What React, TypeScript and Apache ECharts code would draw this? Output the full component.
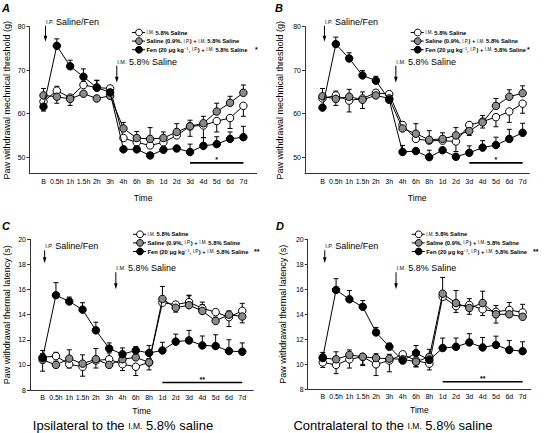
import React, { useEffect, useRef } from "react";
import * as echarts from "echarts";

const categories = ["B", "0.5h", "1h", "1.5h", "2h", "3h", "4h", "6h", "8h", "1d", "2d", "3d", "4d", "5d", "6d", "7d"];
const mechTicks = [50, 60, 70, 80];
const thermTicks = [8, 10, 12, 14, 16, 18, 20];

// Panel A: ipsilateral mechanical threshold (g)
const aWhite = [62.8, 65.3, 63.7, 66.6, 66.0, 65.8, 54.4, 53.4, 52.7, 53.4, 55.0, 57.1, 57.3, 58.3, 59.0, 61.8];
const aGray = [64.2, 63.9, 63.4, 64.6, 63.5, 64.1, 56.6, 54.4, 54.2, 54.4, 55.8, 57.1, 57.8, 60.5, 62.5, 64.8];
const aBlack = [61.6, 75.6, 70.9, 68.5, 66.0, 64.9, 51.8, 51.8, 50.4, 51.7, 52.0, 51.2, 52.6, 53.0, 54.2, 54.6];
const aWhiteErr = [0.5, 1.0, 0.5, 0.8, 1.6, 0.5, 0.5, 0.5, 0.5, 0.5, 0.5, -2.3, -2.8, -2.5, -2.4, -2.4];
const aGrayErr = [1.6, -1.5, -1.5, 0.5, 0.5, 0.5, 1.4, 1.5, 2.6, 1.4, 1.9, 1.4, 1.6, 1.9, 1.5, 1.8];
const aBlackErr = [-1.0, 1.6, 1.4, 1.8, 1.7, 0.5, 0.5, 0.5, 0.5, 0.5, 0.5, 1.8, 1.9, 1.7, 1.6, 2.5];

// Panel B: contralateral mechanical threshold (g)
const bWhite = [63.5, 64.2, 63.0, 63.5, 64.8, 64.5, 57.4, 54.2, 53.8, 53.8, 53.6, 57.4, 58.2, 59.2, 60.5, 62.3];
const bGray = [64.0, 63.4, 63.9, 63.2, 64.2, 63.5, 56.6, 55.4, 54.0, 54.2, 55.0, 56.0, 58.0, 61.8, 63.9, 64.7];
const bBlack = [61.4, 76.0, 72.7, 68.8, 67.6, 63.2, 51.2, 51.4, 50.0, 51.6, 50.1, 51.0, 52.2, 52.8, 54.2, 55.6];
const bWhiteErr = [0.5, 1.0, -2.6, 1.5, 0.5, 0.5, 0.5, 0.5, 0.5, 0.5, -2.3, 0.5, -1.5, -2.2, -2.5, -2.2];
const bGrayErr = [1.8, -1.5, 1.7, -2.0, 1.2, 0.5, 1.5, 2.3, 2.1, 1.4, 1.8, -1.0, 1.6, 1.7, 1.6, 1.7];
const bBlackErr = [-0.5, 1.6, 1.3, 1.1, 1.0, 0.5, 1.5, 0.5, 1.6, 0.5, 0.5, 1.6, 1.6, 1.8, 2.2, 2.2];

// Panel C: ipsilateral thermal latency (s)
const cWhite = [10.6, 10.7, 10.05, 9.85, 10.35, 10.45, 10.05, 9.85, 10.2, 14.95, 14.8, 15.0, 14.5, 14.2, 13.8, 14.3];
const cGray = [10.4, 10.0, 10.5, 10.1, 10.45, 10.0, 10.45, 10.6, 10.2, 15.25, 14.55, 14.75, 14.3, 13.5, 14.0, 13.85];
const cBlack = [10.55, 15.55, 15.05, 14.4, 12.75, 11.3, 10.85, 11.15, 10.95, 11.15, 11.85, 11.95, 11.55, 11.5, 11.1, 11.05];
const cWhiteErr = [0.3, 0.3, -0.3, -0.75, -0.6, 0.5, -0.5, -0.7, 0.3, 0.3, 0.2, 0.5, 0.5, 0.2, -0.75, 0.6];
const cGrayErr = [-0.9, 0.3, 0.7, 0.7, 0.85, 0.3, 0.3, 0.5, -0.6, 1.0, -0.35, 0.8, 0.5, 0.3, 0.3, -0.5];
const cBlackErr = [0.6, 1.0, 0.35, 0.55, 0.65, 0.45, 0.5, 0.3, 0.6, 0.65, 0.6, 0.8, 0.75, 0.9, 0.9, 0.7];

// Panel D: contralateral thermal latency (s)
const dWhite = [10.15, 9.95, 10.4, 10.6, 10.0, 10.3, 10.8, 10.3, 10.05, 15.4, 14.65, 14.75, 14.4, 14.2, 14.35, 14.15];
const dGray = [10.5, 10.4, 10.75, 10.6, 10.5, 10.45, 10.4, 10.2, 10.6, 15.65, 14.9, 14.5, 14.9, 14.0, 14.0, 13.8];
const dBlack = [10.55, 15.95, 15.2, 14.6, 12.55, 11.4, 10.3, 10.9, 10.35, 11.3, 11.4, 11.75, 11.35, 11.55, 11.15, 11.05];
const dWhiteErr = [-0.4, -0.7, -0.7, -0.7, -0.9, -0.9, 0.2, -0.5, -0.5, 0.2, -0.5, 0.5, -0.5, 0.5, 0.6, 0.65];
const dGrayErr = [0.3, 0.6, 0.4, -0.6, 0.35, 0.35, 0.2, -0.4, 0.6, 1.3, 1.0, -0.5, 0.95, -0.7, 0.3, 0.2];
const dBlackErr = [0.4, 0.9, 0.7, 0.5, 0.4, 0.3, 0.2, 0.6, 0.3, 0.8, 0.7, 0.7, 0.8, 0.7, 0.75, 0.75];

const seriesNames = ["I.M. 5.8% Saline", "Saline (0.9%, I.P.) + I.M. 5.8% Saline", "Fen (20 μg kg−1, I.P.) + I.M. 5.8% Saline"];
const legendTexts = [
  "{sc|I.M.} 5.8% Saline",
  "Saline (0.9%, {sc|I.P.}) + {sc|I.M.} 5.8% Saline",
  "Fen (20 μg kg{sup|−1}, {sc|I.P.}) + {sc|I.M.} 5.8% Saline",
];
const fills = ["#ffffff", "#8a8a8a", "#000000"];

const FONT = "Liberation Sans, Arial, Helvetica, sans-serif";

const panels = [
  {
    letter: "A", data: [aWhite, aGray, aBlack], err: [aWhiteErr, aGrayErr, aBlackErr],
    grid: { left: 29.5, top: 26.7, width: 227.2, height: 147 }, xMin: -1.05, xMax: 16.0,
    yMin: 46.2, yMax: 80, ticks: mechTicks, yName: "Paw withdrawal mechnical threshold (g)",
    sig: { from: 11, to: 15, y: 48.7, star: "*" }, legendStar: "*",
    letterPos: [2, 2], legendX: 139, legendY: 32.5, starX: 255,
  },
  {
    letter: "B", data: [bWhite, bGray, bBlack], err: [bWhiteErr, bGrayErr, bBlackErr],
    grid: { left: 305, top: 26.7, width: 224.3, height: 147 }, xMin: -1.31, xMax: 15.5,
    yMin: 46.2, yMax: 80, ticks: mechTicks, yName: "Paw withdrawal mechnical threshold (g)",
    sig: { from: 11, to: 15, y: 48.7, star: "*" }, legendStar: "*",
    letterPos: [275, 2], legendX: 417.7, legendY: 32.5, starX: 527,
  },
  {
    letter: "C", data: [cWhite, cGray, cBlack], err: [cWhiteErr, cGrayErr, cBlackErr],
    grid: { left: 30, top: 239.3, width: 223.3, height: 150.7 }, xMin: -0.95, xMax: 15.83,
    yMin: 8, yMax: 20, ticks: thermTicks, yName: "Paw withdrawal thermal latency (s)",
    sig: { from: 9, to: 15, y: 8.6, star: "**" }, legendStar: "**",
    letterPos: [2, 220], legendX: 140, legendY: 234.3, starX: 254,
  },
  {
    letter: "D", data: [dWhite, dGray, dBlack], err: [dWhiteErr, dGrayErr, dBlackErr],
    grid: { left: 307.7, top: 239.3, width: 223.3, height: 150 }, xMin: -1.13, xMax: 15.63,
    yMin: 8, yMax: 20, ticks: thermTicks, yName: "Paw withdrawal thermal latency (s)",
    sig: { from: 9, to: 15, y: 8.6, star: "**" }, legendStar: "**",
    letterPos: [276, 220], legendX: 418.7, legendY: 234.3, starX: 533,
  },
];

const axisColor = "#333";

function buildOption() {
  const grid: any[] = [];
  const xAxis: any[] = [];
  const yAxis: any[] = [];
  const series: any[] = [];
  panels.forEach((p, i) => {
    grid.push({ ...p.grid, outerBoundsMode: "none", containLabel: false });
    xAxis.push({
      type: "value", gridIndex: i, min: p.xMin, max: p.xMax,
      name: "Time", nameLocation: "middle", nameGap: i < 2 ? 20 : 16,
      nameTextStyle: { fontSize: 8.5, fontFamily: FONT, color: "#000" },
      axisLine: { show: true, onZero: false, lineStyle: { color: axisColor, width: 1 } },
      axisTick: { show: false },
      splitLine: { show: false },
      axisLabel: {
        customValues: categories.map((_, k) => k),
        formatter: (v: number) => categories[Math.round(v)] ?? "",
        fontSize: 7, fontFamily: FONT, color: "#000", margin: 4,
      },
    });
    yAxis.push({
      type: "value", gridIndex: i, min: p.yMin, max: p.yMax,
      name: p.yName, nameLocation: "middle", nameGap: i % 2 === 0 ? 18.5 : 20.5,
      nameTextStyle: { fontSize: 9, fontFamily: FONT, color: "#000" },
      axisLine: { show: true, onZero: false, lineStyle: { color: axisColor, width: 1 } },
      axisTick: { show: true, length: 3, customValues: p.ticks, lineStyle: { color: axisColor } },
      splitLine: { show: false },
      axisLabel: { customValues: p.ticks, fontSize: 7, fontFamily: FONT, color: "#000", margin: 4 },
    });
    p.data.forEach((vals, s) => {
      const errs = p.err[s];
      series.push({
        type: "custom", name: seriesNames[s] + " err", xAxisIndex: i, yAxisIndex: i, z: 1,
        data: vals.map((v, k) => [k, v, errs[k]]),
        renderItem: (params: any, api: any) => {
          const x = api.value(0), y = api.value(1), e = api.value(2);
          const p0 = api.coord([x, y]);
          const p1 = api.coord([x, y + e]);
          return {
            type: "group",
            children: [
              { type: "line", shape: { x1: p0[0], y1: p0[1], x2: p1[0], y2: p1[1] }, style: { stroke: "#000", lineWidth: 1 } },
              { type: "line", shape: { x1: p1[0] - 2.5, y1: p1[1], x2: p1[0] + 2.5, y2: p1[1] }, style: { stroke: "#000", lineWidth: 1 } },
            ],
          };
        },
      });
      series.push({
        type: "line", name: seriesNames[s], xAxisIndex: i, yAxisIndex: i, z: 2 + s,
        data: vals.map((v, k) => [k, v]),
        symbol: "circle", symbolSize: 7.5,
        itemStyle: { color: fills[s], borderColor: "#000", borderWidth: 1 },
        lineStyle: { color: "#000", width: 1 },
      });
    });
  });
  return { animation: false, backgroundColor: "#fff", grid, xAxis, yAxis, series };
}

const richSc = {
  sc: { fontSize: 4.5, fontFamily: FONT, fill: "#000" },
  sup: { fontSize: 4, fontFamily: FONT, fill: "#000", verticalAlign: "top" },
};

export default function App() {
  const ref = useRef<HTMLDivElement>(null);
  useEffect(() => {
    if (!ref.current) return;
    const chart = echarts.init(ref.current, null, { renderer: "svg" });
    chart.setOption(buildOption());
    const g: any[] = [];
    panels.forEach((p, i) => {
      const px = (x: number, y: number) => chart.convertToPixel({ gridIndex: i }, [x, y]) as number[];
      // panel letter
      g.push({ type: "text", x: p.letterPos[0], y: p.letterPos[1], style: { text: p.letter, font: `italic bold 11px ${FONT}`, fill: "#000" } });
      // legend
      [0, 1, 2].forEach((s) => {
        const cy = p.legendY + s * 8.6;
        g.push({ type: "line", shape: { x1: p.legendX - 7, y1: cy, x2: p.legendX + 6, y2: cy }, style: { stroke: "#000", lineWidth: 1 } });
        g.push({ type: "circle", shape: { cx: p.legendX, cy, r: 3.4 }, style: { fill: fills[s], stroke: "#000", lineWidth: 1 } });
        g.push({
          type: "text", x: p.legendX + 7.5, y: cy,
          style: { text: legendTexts[s], fontSize: 5.8, fontFamily: FONT, fontWeight: "bold", fill: "#000", verticalAlign: "middle", rich: richSc },
        });
      });
      g.push({ type: "text", x: p.starX, y: p.legendY + 2 * 8.6, style: { text: p.legendStar, fontSize: 7, fontFamily: FONT, fontWeight: "bold", fill: "#000", verticalAlign: "middle" } });
      // I.P. arrow + text
      const ipTop = px(0.15, p.yMax);
      const ipLen = i < 2 ? 16 : 13;
      const ipY0 = ipTop[1] + (i < 2 ? -1 : 11);
      g.push({ type: "line", shape: { x1: ipTop[0], y1: ipY0, x2: ipTop[0], y2: ipY0 + ipLen - 4 }, style: { stroke: "#000", lineWidth: 1 } });
      g.push({ type: "polygon", shape: { points: [[ipTop[0] - 1.8, ipY0 + ipLen - 6], [ipTop[0] + 1.8, ipY0 + ipLen - 6], [ipTop[0], ipY0 + ipLen]] }, style: { fill: "#000" } });
      g.push({
        type: "text", x: ipTop[0] + 0.5, y: ipY0 - 4,
        style: { text: "{sc|I.P.} Saline/Fen", fontSize: 9, fontFamily: FONT, fill: "#000", verticalAlign: "middle", rich: { sc: { fontSize: 5.5, fontFamily: FONT, fill: "#000" } } },
      });
      // I.M. arrow + text
      const imTop = px(5.5, p.yMax);
      const imY0 = imTop[1] + (i < 2 ? 39 : 33);
      const imLen = 17;
      g.push({ type: "line", shape: { x1: imTop[0], y1: imY0, x2: imTop[0], y2: imY0 + imLen - 4 }, style: { stroke: "#000", lineWidth: 1 } });
      g.push({ type: "polygon", shape: { points: [[imTop[0] - 1.8, imY0 + imLen - 6], [imTop[0] + 1.8, imY0 + imLen - 6], [imTop[0], imY0 + imLen]] }, style: { fill: "#000" } });
      g.push({
        type: "text", x: imTop[0] + 0.5, y: imY0 - 4,
        style: { text: "{sc|I.M.} 5.8% Saline", fontSize: 9, fontFamily: FONT, fill: "#000", verticalAlign: "middle", rich: { sc: { fontSize: 5.5, fontFamily: FONT, fill: "#000" } } },
      });
      // significance bar
      const s0 = px(p.sig.from, p.sig.y);
      const s1 = px(p.sig.to, p.sig.y);
      g.push({ type: "line", shape: { x1: s0[0], y1: s0[1], x2: s1[0], y2: s1[1] }, style: { stroke: "#000", lineWidth: 1.6 } });
      g.push({ type: "text", x: (s0[0] + s1[0]) / 2, y: s0[1] - 3, style: { text: p.sig.star, fontSize: 7, fontFamily: FONT, fontWeight: "bold", fill: "#000", align: "center", verticalAlign: "middle" } });
    });
    // bottom titles
    g.push({
      type: "text", x: 123, y: 425.5,
      style: { text: "Ipsilateral to the {sc|I.M.} 5.8% saline", fontSize: 13, fontFamily: FONT, fill: "#000", align: "center", verticalAlign: "middle", rich: { sc: { fontSize: 8.5, fontFamily: FONT, fill: "#000" } } },
    });
    g.push({
      type: "text", x: 393, y: 425.5,
      style: { text: "Contralateral to the {sc|I.M.} 5.8% saline", fontSize: 13, fontFamily: FONT, fill: "#000", align: "center", verticalAlign: "middle", rich: { sc: { fontSize: 8.5, fontFamily: FONT, fill: "#000" } } },
    });
    chart.setOption({ graphic: g });
    return () => chart.dispose();
  }, []);
  return <div ref={ref} style={{ position: "fixed", left: 0, top: 0, width: 545, height: 433 }} />;
}
